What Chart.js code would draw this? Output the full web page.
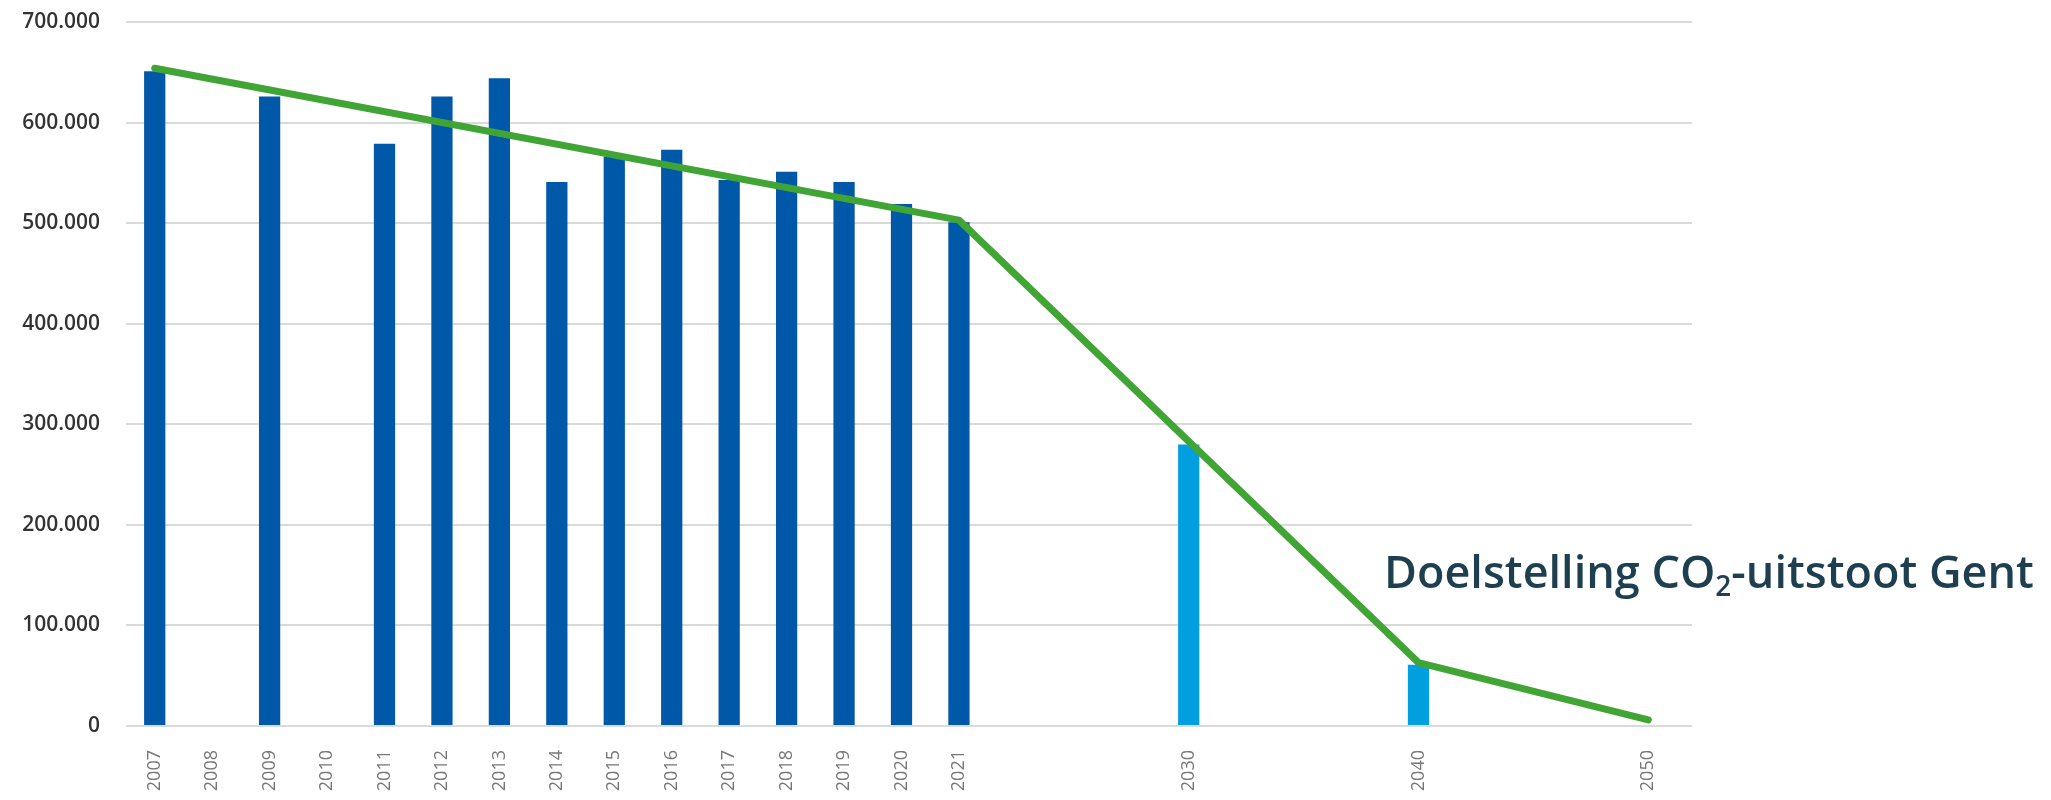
<!DOCTYPE html>
<html lang="nl">
<head>
<meta charset="utf-8">
<title>CO2-uitstoot Gent</title>
<script src="https://cdn.jsdelivr.net/npm/chart.js@4/dist/chart.umd.min.js"></script>
<style>
  html, body { margin: 0; padding: 0; background: #ffffff; }
  #wrap { position: relative; width: 2051px; height: 800px; }
  canvas { display: block; }
</style>
</head>
<body>
<div id="wrap"><canvas id="chart" width="2051" height="800"></canvas></div>
<script>
// Years on the category axis; blank entries keep the spacing between the target years
const years = ['2007','2008','2009','2010','2011','2012','2013','2014','2015','2016','2017','2018','2019','2020','2021',
               '','','','2030','','','','2040','','','','2050'];

// Measured emissions (ton CO2) and the interim target bars for 2030 and 2040
const emissions = [651000, null, 626000, null, 579000, 626000, 644000, 541000, 566000, 573000, 543000, 551000, 541000, 519000, 501000,
                   null, null, null, 280000, null, null, null, 61000, null, null, null, null];

// Target trajectory (Doelstelling), only at its breakpoints
const targetPath = [654000, null, null, null, null, null, null, null, null, null, null, null, null, null, 503000,
                    null, null, null, 283000, null, null, null, 63000, null, null, null, 6000];

// Y-axis ticks
const yTicks = [0, 100000, 200000, 300000, 400000, 500000, 600000, 700000];

const lastMeasuredYear = 2021;
const dotThousands = v => String(v).replace(/\B(?=(\d{3})+(?!\d))/g, '.');

// Let the horizontal gridlines run a little past the last category
const gridTailPlugin = {
  id: 'gridTail',
  beforeDatasetsDraw(chart) {
    const { ctx, chartArea, scales } = chart;
    ctx.save();
    ctx.strokeStyle = '#dadada';
    ctx.lineWidth = 2;
    scales.y.ticks.forEach(t => {
      const y = Math.round(scales.y.getPixelForValue(t.value));
      ctx.beginPath();
      ctx.moveTo(chartArea.right, y);
      ctx.lineTo(chartArea.right + 15, y);
      ctx.stroke();
    });
    ctx.restore();
  }
};

// Caption with a subscript "2" next to the target line
const captionPlugin = {
  id: 'doelstellingLabel',
  afterDraw(chart) {
    const ctx = chart.ctx;
    ctx.save();
    ctx.fillStyle = '#1d3f4f';
    ctx.textBaseline = 'alphabetic';
    ctx.textAlign = 'left';
    let x = 1384;
    const base = 588;
    const big = '600 45px "Open Sans"';
    const small = '600 28px "Open Sans"';
    ctx.font = big;
    const part1 = 'Doelstelling CO';
    ctx.fillText(part1, x, base);
    x += ctx.measureText(part1).width;
    ctx.font = small;
    ctx.fillText('2', x, base + 8);
    x += ctx.measureText('2').width;
    ctx.font = big;
    ctx.fillText('-uitstoot Gent', x, base);
    ctx.restore();
  }
};

new Chart(document.getElementById('chart'), {
  data: {
    labels: years,
    datasets: [
      {
        type: 'line',
        label: 'Doelstelling',
        data: targetPath,
        spanGaps: true,
        borderColor: '#41a536',
        borderWidth: 7,
        borderCapStyle: 'round',
        borderJoinStyle: 'round',
        pointRadius: 0,
        tension: 0,
        order: 0
      },
      {
        type: 'bar',
        label: 'CO2-uitstoot',
        data: emissions,
        backgroundColor: ctx => Number(years[ctx.dataIndex]) > lastMeasuredYear ? '#009fe0' : '#0058a8',
        barPercentage: 0.37,
        categoryPercentage: 1.0,
        order: 1
      }
    ]
  },
  options: {
    responsive: false,
    animation: false,
    layout: { padding: { top: 22, right: 374, bottom: 0, left: 0 } },
    plugins: {
      legend: { display: false },
      tooltip: { enabled: false }
    },
    scales: {
      x: {
        type: 'category',
        offset: true,
        grid: { display: false, drawTicks: false },
        border: { display: false },
        ticks: {
          autoSkip: false,
          maxRotation: 90,
          minRotation: 90,
          padding: 24,
          color: '#777777',
          font: { family: '"Open Sans"', size: 18, weight: '400' }
        },
        afterFit(scale) { scale.height = 74; }
      },
      y: {
        min: 0,
        max: 700000,
        afterBuildTicks(scale) { scale.ticks = yTicks.map(v => ({ value: v })); },
        grid: { color: '#dadada', lineWidth: 2, drawTicks: false },
        border: { display: false },
        ticks: {
          padding: 26,
          color: '#333333',
          font: { family: '"Open Sans"', size: 21, weight: '600' },
          callback: v => dotThousands(v)
        },
        afterFit(scale) {
          scale.width = 126;
          scale.paddingTop = 0;
          scale.paddingBottom = 0;
        }
      }
    }
  },
  plugins: [gridTailPlugin, captionPlugin]
});
</script>
</body>
</html>
